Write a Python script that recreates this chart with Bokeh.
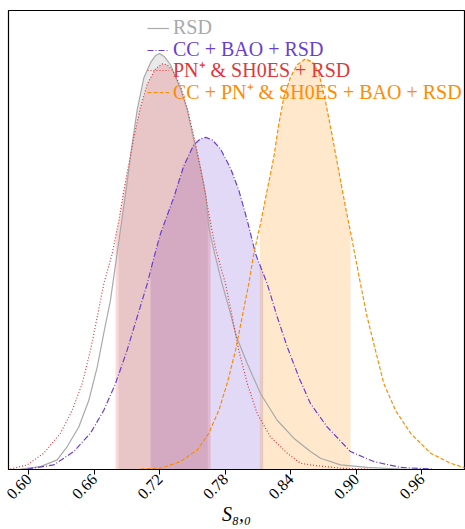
import numpy as np
from bokeh.plotting import figure
from bokeh.models import Legend, LegendItem, FixedTicker, Range1d, NumeralTickFormatter
from bokeh.embed import file_html
from bokeh.resources import INLINE

# ---------------- data ----------------
labels = ["RSD", "CC + BAO + RSD", "PN\u207a & SH0ES + RSD",
          "CC + PN\u207a & SH0ES + BAO + RSD"]

rsd_x = [0.5924, 0.6107, 0.6260, 0.6352, 0.6458, 0.6550, 0.6627, 0.6687, 0.6748, 0.6810,
         0.6856, 0.6901, 0.6947, 0.6993, 0.7053, 0.7115, 0.7160, 0.7197, 0.7240, 0.7298,
         0.7390, 0.7451, 0.7511, 0.7573, 0.7619, 0.7649, 0.7695, 0.7771, 0.7847, 0.7902,
         0.8001, 0.8122, 0.8275, 0.8427, 0.8580, 0.8672, 0.8855, 0.9100, 0.9404, 0.9700]
rsd_y = [0.001, 0.007, 0.023, 0.055, 0.102, 0.166, 0.246, 0.327, 0.406, 0.520,
         0.605, 0.690, 0.780, 0.862, 0.938, 0.975, 0.992, 0.997, 0.990, 0.970,
         0.912, 0.862, 0.790, 0.722, 0.660, 0.580, 0.525, 0.445, 0.374, 0.318,
         0.254, 0.182, 0.118, 0.075, 0.043, 0.027, 0.011, 0.005, 0.001, 0.000]

cc_x = [0.5985, 0.6229, 0.6412, 0.6565, 0.6687, 0.6794, 0.6901, 0.6993, 0.7085, 0.7145,
        0.7206, 0.7328, 0.7420, 0.7511, 0.7570, 0.7620, 0.7680, 0.7756, 0.7848, 0.7924,
        0.8001, 0.8077, 0.8184, 0.8275, 0.8367, 0.8480, 0.8580, 0.8733, 0.8946, 0.9160,
        0.9404, 0.9710]
cc_y = [0.001, 0.011, 0.043, 0.087, 0.142, 0.206, 0.286, 0.366, 0.445, 0.507,
        0.565, 0.652, 0.728, 0.778, 0.792, 0.796, 0.790, 0.768, 0.722, 0.669,
        0.597, 0.517, 0.445, 0.366, 0.294, 0.217, 0.158, 0.102, 0.043, 0.019,
        0.005, 0.001]

pn_x = [0.5831, 0.5985, 0.6137, 0.6290, 0.6398, 0.6489, 0.6565, 0.6627, 0.6687, 0.6764,
        0.6825, 0.6871, 0.6917, 0.6962, 0.7023, 0.7085, 0.7161, 0.7220, 0.7268, 0.7320,
        0.7390, 0.7451, 0.7511, 0.7557, 0.7603, 0.7649, 0.7710, 0.7802, 0.7863, 0.7923,
        0.8001, 0.8092, 0.8214, 0.8367, 0.8489, 0.8580, 0.8855, 0.9130]
pn_y = [0.001, 0.011, 0.039, 0.087, 0.142, 0.206, 0.286, 0.366, 0.445, 0.517,
        0.597, 0.669, 0.733, 0.796, 0.868, 0.924, 0.960, 0.972, 0.970, 0.955,
        0.918, 0.866, 0.800, 0.742, 0.682, 0.613, 0.530, 0.445, 0.366, 0.286,
        0.206, 0.134, 0.078, 0.039, 0.015, 0.011, 0.003, 0.001]

all_x = [0.7023, 0.7206, 0.7390, 0.7543, 0.7649, 0.7741, 0.7817, 0.7894, 0.7955, 0.8015,
         0.8061, 0.8122, 0.8183, 0.8244, 0.8290, 0.8336, 0.8397, 0.8459, 0.8535, 0.8600,
         0.8657, 0.8718, 0.8779, 0.8840, 0.8901, 0.8962, 0.9038, 0.9099, 0.9175, 0.9252,
         0.9359, 0.9496, 0.9680, 0.9863, 0.9996]
all_y = [0.001, 0.003, 0.019, 0.047, 0.087, 0.142, 0.206, 0.286, 0.366, 0.445,
         0.517, 0.589, 0.669, 0.748, 0.828, 0.892, 0.940, 0.970, 0.984, 0.976,
         0.950, 0.882, 0.800, 0.714, 0.629, 0.549, 0.445, 0.366, 0.286, 0.206,
         0.142, 0.087, 0.039, 0.015, 0.004]

# shaded credible intervals
rsd_band = [0.6822, 0.7639]
cc_band = [0.7115, 0.8147]
pn_band = [0.6795, 0.7665]
all_band = [0.8116, 0.8947]

tick_vals = [0.60, 0.66, 0.72, 0.78, 0.84, 0.90, 0.96]
tick_labels = ["0.60", "0.66", "0.72", "0.78", "0.84", "0.90", "0.96"]

# ---------------- styling ----------------
C_GRAY = "#a9a9a9"
C_PURP = "#6a3fcf"
C_RED = "#e4353a"
C_ORNG = "#ff8c00"
SERIF = "Liberation Serif"


def band(x, y, lo, hi):
    x = np.asarray(x, float)
    y = np.asarray(y, float)
    m = (x > lo) & (x < hi)
    bx = np.concatenate([[lo], x[m], [hi]])
    by = np.concatenate([[np.interp(lo, x, y)], y[m], [np.interp(hi, x, y)]])
    return bx, by


p = figure(frame_width=456, frame_height=459,
           x_range=Range1d(0.5814, 0.9991), y_range=Range1d(0, 1.1),
           output_backend="svg", toolbar_location=None,
           min_border_left=8, min_border_right=1, min_border_top=10, min_border_bottom=50)
p.background_fill_color = "white"
p.border_fill_color = "white"
p.grid.visible = False
p.yaxis.visible = False
p.outline_line_color = "black"
p.outline_line_width = 1.2
p.outline_line_alpha = 1.0

# fills
for (xs, ys, b, c) in [(rsd_x, rsd_y, rsd_band, C_GRAY),
                       (cc_x, cc_y, cc_band, C_PURP),
                       (pn_x, pn_y, pn_band, C_RED),
                       (all_x, all_y, all_band, C_ORNG)]:
    bx, by = band(xs, ys, b[0], b[1])
    p.varea(x=bx, y1=np.zeros_like(by), y2=by, fill_color=c,
            fill_alpha=0.25 if c == C_GRAY else 0.2)

r1 = p.line(rsd_x, rsd_y, line_color=C_GRAY, line_width=1.2)
r2 = p.line(cc_x, cc_y, line_color=C_PURP, line_width=1.2, line_dash="6 2 1 2")
r3 = p.line(pn_x, pn_y, line_color=C_RED, line_width=1.2, line_dash="1 2")
r4 = p.line(all_x, all_y, line_color=C_ORNG, line_width=1.2, line_dash="4 2")

# x axis
xa = p.xaxis[0]
xa.ticker = FixedTicker(ticks=tick_vals)
xa.formatter = NumeralTickFormatter(format="0.00")
xa.major_label_overrides = {v: l for v, l in zip(tick_vals, tick_labels)}
xa.major_label_orientation = np.pi / 4
xa.major_label_text_font = SERIF
xa.major_label_text_font_size = "16px"
xa.major_label_text_color = "black"
xa.major_label_standoff = 2
xa.major_tick_out = 5
xa.major_tick_in = 0
xa.major_tick_line_color = "black"
xa.minor_tick_line_color = None
xa.axis_line_color = "black"
xa.axis_line_width = 1.2
xa.axis_label = "S\u2088,\u2080"
xa.axis_label_text_font = SERIF
xa.axis_label_text_font_style = "italic"
xa.axis_label_text_font_size = "20px"
xa.axis_label_text_color = "black"
xa.axis_label_standoff = -4

# legends: one per entry so that each label has its own colour
frame_bottom = 469
for r, lab, c, cy in [(r1, labels[0], C_GRAY, 28.5), (r2, labels[1], C_PURP, 50.5),
                      (r3, labels[2], C_RED, 72.5), (r4, labels[3], C_ORNG, 94.5)]:
    leg = Legend(items=[LegendItem(label=lab, renderers=[r])],
                 location=(139, int(round(frame_bottom - (cy + 10)))),
                 label_text_color=c, label_text_font=SERIF,
                 label_text_font_size="20px", border_line_color=None,
                 background_fill_alpha=0, padding=0, margin=0, spacing=0,
                 glyph_width=22, glyph_height=20, label_height=20,
                 label_standoff=4)
    p.add_layout(leg)

open("out.html", "w").write(file_html(p, INLINE))
